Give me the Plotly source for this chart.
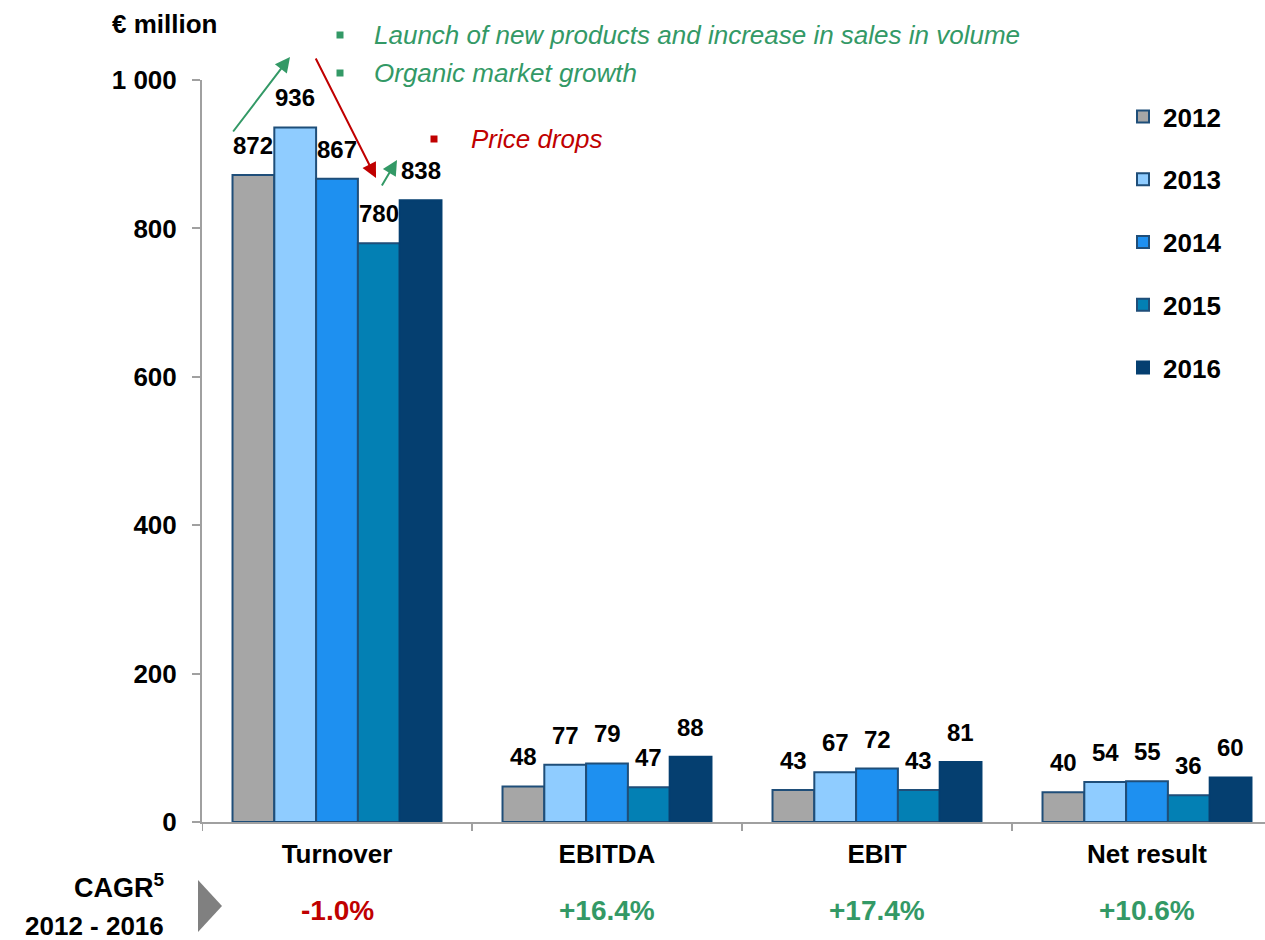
import plotly.graph_objects as go

categories = ["Turnover", "EBITDA", "EBIT", "Net result"]
years = ["2012", "2013", "2014", "2015", "2016"]
values = {
    "2012": [872, 48, 43, 40],
    "2013": [936, 77, 67, 54],
    "2014": [867, 79, 72, 55],
    "2015": [780, 47, 43, 36],
    "2016": [838, 88, 81, 60],
}
cagr = ["-1.0%", "+16.4%", "+17.4%", "+10.6%"]

fill_colors = {"2012": "#A6A6A6", "2013": "#8FCCFF", "2014": "#1E90F0",
               "2015": "#0380B4", "2016": "#053F70"}
line_colors = {"2012": "#1F4E79", "2013": "#1F4E79", "2014": "#1F4E79",
               "2015": "#1F4E79", "2016": "#053F70"}

W, H = 1265, 940
L, R, T, B = 202, 0, 80, 118
PW, PH = W - L - R, H - T - B
FONT = "Liberation Sans, Arial, sans-serif"
GREEN = "#339966"
RED = "#C00000"
BARGAP = 0.226


def px(x):
    return (x - L) / PW


def py(y):
    return (H - B - y) / PH


fig = go.Figure()
for i, yr in enumerate(years):
    fig.add_trace(go.Bar(
        name=yr, x=list(range(len(categories))), y=values[yr],
        marker=dict(color=fill_colors[yr], line=dict(color=line_colors[yr], width=2)),
        legendgroup=yr,
    ))

unit = 270.0
xmax = -0.5 + PW / unit

annotations = []
shapes = []
# data labels above bars
bw = (1 - BARGAP) / len(years)
for i, yr in enumerate(years):
    for j, v in enumerate(values[yr]):
        annotations.append(dict(text=f"<b>{v}</b>", x=j + (i - (len(years) - 1) / 2) * bw, y=v,
                                xref="x", yref="y", xanchor="center", yanchor="bottom",
                                yshift=14, showarrow=False,
                                font=dict(family=FONT, size=24, color="black")))

annotations.append(dict(text="<b>€ million</b>", x=px(164), y=py(24), xref="paper", yref="paper",
                        xanchor="center", yanchor="middle",
                        showarrow=False, font=dict(family=FONT, size=26, color="black")))
# comments
for (bx, tx, yy, txt, col) in [
    (340, 372, 35, "Launch of new products and increase in sales in volume", GREEN),
    (340, 372, 73, "Organic market growth", GREEN),
    (434, 469, 139, "Price drops", RED),
]:
    shapes.append(dict(type="rect", xref="paper", yref="paper",
                       x0=px(bx - 3.5), x1=px(bx + 3.5), y0=py(yy - 3.5), y1=py(yy + 3.5),
                       fillcolor=col, line=dict(width=0)))
    annotations.append(dict(text=f"<i>{txt}</i>", x=px(tx), y=py(yy), xref="paper", yref="paper",
                            xanchor="left", yanchor="middle", showarrow=False,
                            font=dict(family=FONT, size=26, color=col)))


def dx(p):
    return (p - L) / unit - 0.5


def dy(p):
    return (H - B - p) / PH * 1000


for (x0, y0, x1, y1, col) in [
    (232, 133, 290, 57, GREEN),
    (315, 57, 376, 178, RED),
    (381, 187, 397, 160, GREEN),
]:
    annotations.append(dict(x=dx(x1), y=dy(y1), ax=dx(x0), ay=dy(y0), xref="x", yref="y",
                            axref="x", ayref="y", text="", showarrow=True, arrowhead=2,
                            arrowsize=1.5, arrowwidth=2, arrowcolor=col))

# CAGR row
annotations.append(dict(text="<b>CAGR<sup>5</sup></b>", x=px(166), y=py(886), xref="paper", yref="paper",
                        xanchor="right", yanchor="middle", showarrow=False,
                        font=dict(family=FONT, size=27, color="black")))
annotations.append(dict(text="<b>2012 - 2016</b>", x=px(166), y=py(926), xref="paper", yref="paper",
                        xanchor="right", yanchor="middle", showarrow=False,
                        font=dict(family=FONT, size=26, color="black")))
for i, c in enumerate(cagr):
    annotations.append(dict(text=f"<b>{c}</b>", x=i, y=py(910), xref="x", yref="paper",
                            xanchor="center", yanchor="middle", showarrow=False,
                            font=dict(family=FONT, size=28, color=RED if c.startswith("-") else GREEN)))

shapes.append(dict(type="path", xref="paper", yref="paper",
                   path=f"M {px(198)},{py(880)} L {px(222)},{py(906)} L {px(198)},{py(932)} Z",
                   fillcolor="#808080", line=dict(width=0)))

# category boundary ticks on x axis
for b in [-0.5, 0.5, 1.5, 2.5, 3.5]:
    shapes.append(dict(type="line", xref="x", yref="paper", x0=b, x1=b, y0=0, y1=-9 / PH,
                       line=dict(color="#A0A0A0", width=2)))

fig.update_layout(
    width=W, height=H, margin=dict(l=L, r=R, t=T, b=B, pad=0),
    paper_bgcolor="white", plot_bgcolor="white",
    barmode="group", bargap=BARGAP, bargroupgap=0,
    separators=". ",
    font=dict(family=FONT, color="black"),
    xaxis=dict(range=[-0.5, xmax], tickmode="array", tickvals=list(range(len(categories))),
               ticktext=[f"<b>{c}</b>" for c in categories],
               tickfont=dict(family=FONT, size=26, color="black"),
               showline=True, linecolor="#A0A0A0", linewidth=2, ticks="", showgrid=False,
               zeroline=False, ticklabelstandoff=8),
    yaxis=dict(range=[0, 1000], tickvals=[0, 200, 400, 600, 800, 1000], tickformat=",d",
               tickfont=dict(family=FONT, size=26, color="black", weight="bold"),
               showline=True, linecolor="#A0A0A0", linewidth=2, ticks="outside", ticklen=8,
               tickcolor="#A0A0A0", tickwidth=2, showgrid=False, zeroline=False, ticklabelstandoff=10),
    legend=dict(x=px(1123), y=py(93), xanchor="left", yanchor="top", traceorder="grouped",
                tracegroupgap=26, font=dict(family=FONT, size=26, color="black", weight="bold"),
                bgcolor="rgba(0,0,0,0)"),
    showlegend=True,
    annotations=annotations,
    shapes=shapes,
)

fig.write_html("out.html")
